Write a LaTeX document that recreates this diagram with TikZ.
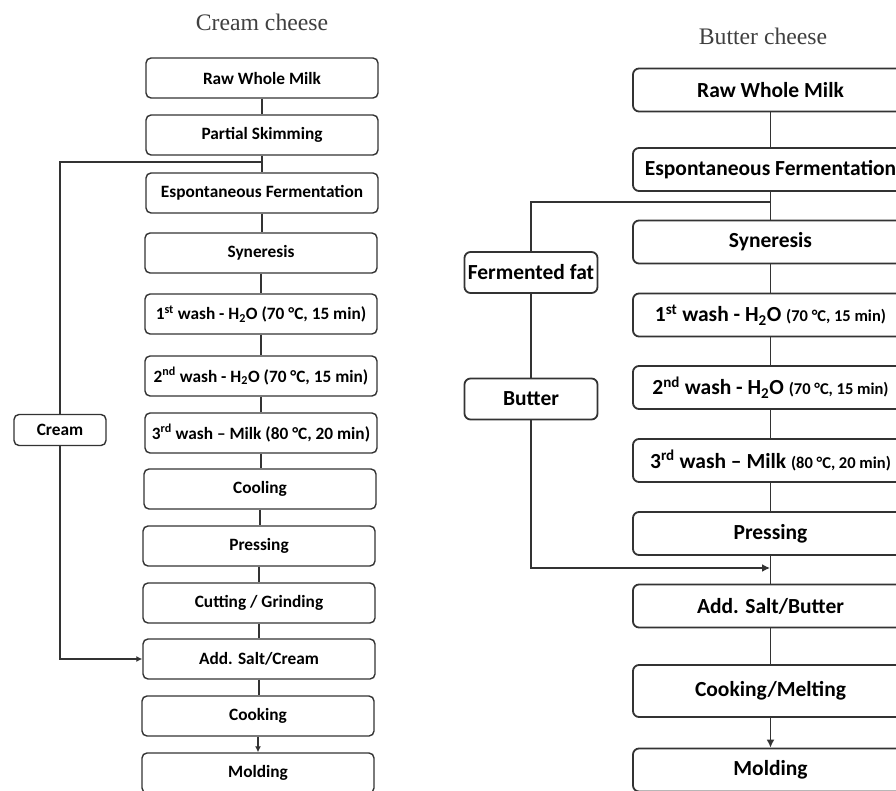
\documentclass[tikz,border=0pt]{standalone}
\usepackage{fontspec}
\setmainfont{Carlito}
\newfontfamily\titlefont{Liberation Serif}
\usetikzlibrary{arrows.meta}
\begin{document}
\begin{tikzpicture}[x=1pt,y=-1pt,
  lbox/.style={draw=black!80, line width=1.4pt, rounded corners=5pt, minimum width=232pt, minimum height=40pt, inner sep=0pt, font=\fontsize{17.3}{19}\bfseries\selectfont},
  rbox/.style={draw=black!80, line width=1.8pt, rounded corners=6pt, minimum width=275pt, minimum height=43pt, inner sep=0pt, font=\fontsize{21.5}{23}\bfseries\selectfont},
  sbox/.style={draw=black!80, line width=1.8pt, rounded corners=6pt, minimum width=133pt, minimum height=41pt, inner sep=0pt, font=\fontsize{21.5}{23}\bfseries\selectfont},
  cbox/.style={draw=black!80, line width=1.4pt, rounded corners=5pt, minimum width=92pt, minimum height=31pt, inner sep=0pt, font=\fontsize{17.3}{19}\bfseries\selectfont},
  lconn/.style={draw=black!80, line width=1.4pt},
  rconn/.style={draw=black!80, line width=1.8pt},
  ltip/.style={-{Latex[length=6pt,width=6pt]}},
  rtip/.style={-{Latex[length=8pt,width=8pt]}},
  title/.style={font=\titlefont\fontsize{23.7}{26}\selectfont, text=black!75},
  smtext/.style={}
]
\useasboundingbox (0,0) rectangle (896,791);
\clip (0,0) rectangle (896,791);
\fill[white] (0,0) rectangle (896,791);

% ---------- Left: Cream cheese ----------
\node[title] (t1) at (262,22) {Cream cheese};
\node[lbox] (l1) at (262,78) {Raw Whole Milk};
\node[lbox] (l2) at (262,135) {Partial Skimming};
\node[lbox] (l3) at (262,193) {Espontaneous Fermentation};
\node[lbox] (l4) at (261,253) {Syneresis};
\node[lbox] (l5) at (261,314) {1\textsuperscript{st} wash - H\textsubscript{2}O (70 °C, 15 min)};
\node[lbox] (l6) at (261,376) {2\textsuperscript{nd} wash - H\textsubscript{2}O (70 °C, 15 min)};
\node[lbox] (l7) at (261,433) {3\textsuperscript{rd} wash – Milk (80 °C, 20 min)};
\node[lbox] (l8) at (260,489) {Cooling};
\node[lbox] (l9) at (259,546) {Pressing};
\node[lbox] (l10) at (259,603) {Cutting / Grinding};
\node[lbox] (l11) at (259,659) {Add. Salt/Cream};
\node[lbox] (l12) at (258,716) {Cooking};
\node[lbox] (l13) at (258,773) {Molding};
\node[cbox] (cream) at (60,430) {Cream};
\coordinate (lb) at (l2.south |- 0,162);

\foreach \a/\b in {l1/l2,l2/l3,l3/l4,l4/l5,l5/l6,l6/l7,l7/l8,l8/l9,l9/l10,l10/l11,l11/l12}
  \draw[lconn] (\a.south) -- (\a.south |- \b.north);
\draw[lconn,ltip] (l12.south) -- (l13.north);
\draw[lconn] (lb) -| (cream.north);
\draw[lconn,ltip] (cream.south) |- (l11.west);

% ---------- Right: Butter cheese ----------
\node[title] (t2) at (763,36) {Butter cheese};
\node[rbox] (r1) at (770.5,90) {Raw Whole Milk};
\node[rbox] (r2) at (770.5,169.5) {Espontaneous Fermentation};
\node[rbox] (r3) at (770.5,242) {Syneresis};
\node[rbox] (r4) at (770.5,315) {1\textsuperscript{st} wash - H\textsubscript{2}O {\fontsize{16.5}{18}\selectfont(70 °C, 15 min)}};
\node[rbox] (r5) at (770.5,387.5) {2\textsuperscript{nd} wash - H\textsubscript{2}O {\fontsize{16.5}{18}\selectfont(70 °C, 15 min)}};
\node[rbox] (r6) at (770.5,460.5) {3\textsuperscript{rd} wash – Milk {\fontsize{16.5}{18}\selectfont(80 °C, 20 min)}};
\node[rbox] (r7) at (770.5,533.5) {Pressing};
\node[rbox] (r8) at (770.5,606) {Add. Salt/Butter};
\node[rbox, minimum height=52pt] (r9) at (770.5,691) {Cooking/Melting};
\node[rbox] (r10) at (770.5,770) {Molding};
\node[sbox] (ff) at (531,272.5) {Fermented fat};
\node[sbox] (bt) at (531,399) {Butter};
\coordinate (rb) at (770,202);
\coordinate (ra) at (770,568);

\foreach \a/\b in {r1/r2,r2/r3,r3/r4,r4/r5,r5/r6,r6/r7,r7/r8,r8/r9}
  \draw[rconn] (\a.south) -- (\b.north);
\draw[rconn,rtip] (r9.south) -- (r10.north);
\draw[rconn] (rb) -| (ff.north);
\draw[rconn] (ff.south) -- (bt.north);
\draw[rconn,rtip] (bt.south) |- (ra);
\end{tikzpicture}
\end{document}
